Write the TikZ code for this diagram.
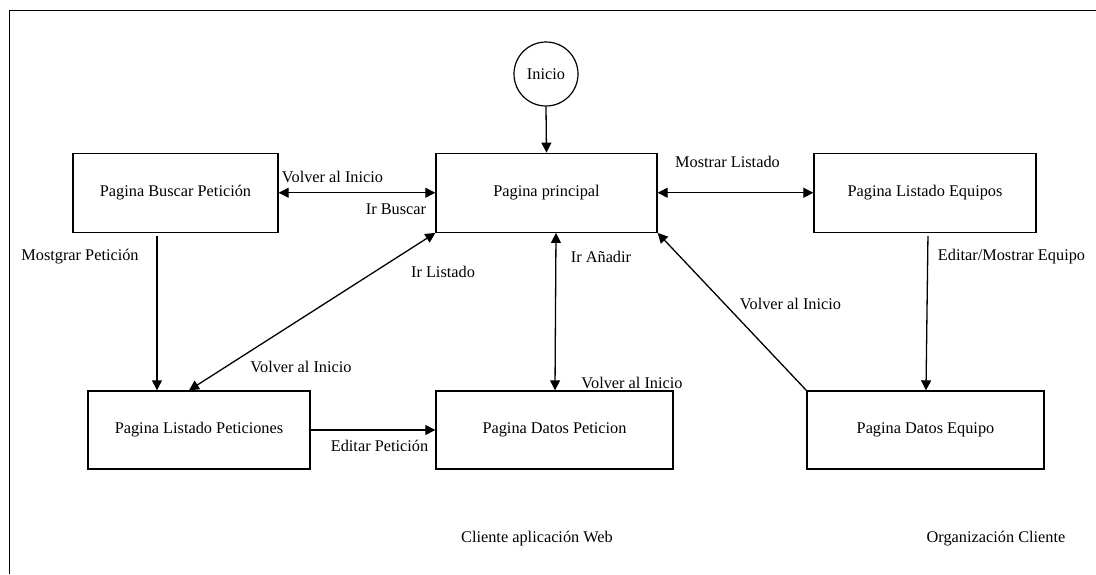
\documentclass[tikz,border=0pt]{standalone}
\usepackage{fontspec}
\setmainfont{Liberation Serif}
\usetikzlibrary{arrows.meta}

\tikzset{
  page/.style={draw, line width=1.4pt, minimum height=79pt, inner sep=0pt,
               font=\fontsize{16.3}{18}\selectfont},
  startnode/.style={draw, circle, line width=1.2pt, minimum size=64pt, inner sep=0pt,
                    font=\fontsize{16.3}{18}\selectfont},
  lbl/.style={inner sep=0pt, font=\fontsize{16.3}{18}\selectfont},
  link/.style={line width=1.3pt, -{Triangle[length=10pt,width=10pt]}},
  biline/.style={line width=1.3pt, {Triangle[length=10pt,width=10pt]}-{Triangle[length=10pt,width=10pt]}}
}

\begin{document}
\begin{tikzpicture}[x=1pt,y=-1pt]
  \useasboundingbox (0,0) rectangle (1096,574);

  % outer frame (open towards the right and bottom edges)
  \draw[line width=1.5pt] (9.5,574) -- (9.5,10.5) -- (1096,10.5);

  % pages
  \node[startnode] (ini) at (546,74) {Inicio};
  \node[page, minimum width=221pt] (pp)  at (546.5,192.75) {Pagina principal};
  \node[page, minimum width=205pt] (pb)  at (175.5,192.75) {Pagina Buscar Petición};
  \node[page, minimum width=222pt] (ple) at (925,192.75) {Pagina Listado Equipos};
  \node[page, minimum width=222pt, minimum height=78pt] (plp) at (199,430) {Pagina Listado Peticiones};
  \node[page, minimum width=237pt, minimum height=78pt] (dp)  at (554.5,430) {Pagina Datos Peticion};
  \node[page, minimum width=237pt, minimum height=78pt] (de)  at (925.5,430) {Pagina Datos Equipo};

  % connectors
  \draw[link] (ini.south) -- (pp.north);
  \draw[biline] (pb.east) -- (pp.west);
  \draw[biline] (pp.east) -- (ple.west);
  \draw[link, shorten <=3pt] ([xshift=-18.5pt]pb.south) -- ([xshift=-18.5pt]pb.south |- plp.north);
  \draw[biline] ([xshift=-10pt]plp.north) -- (pp.south west);
  \draw[biline] ([xshift=9.5pt]pp.south) -- ([xshift=0.5pt]dp.north);
  \draw[link] (plp.east) -- (dp.west);
  \draw[link, shorten <=3pt] ([xshift=3pt]ple.south) -- ([xshift=0.5pt]de.north);
  \draw[link] (de.north west) -- (pp.south east);

  % connector labels
  \node[lbl] (l1)  at (332.5,176.5) {Volver al Inicio};
  \node[lbl] (l2)  at (396,209) {Ir Buscar};
  \node[lbl] (l3)  at (727.5,161.5) {Mostrar Listado};
  \node[lbl] (l4)  at (80,256.5) {Mostgrar Petición};
  \node[lbl] (l5)  at (443,271.5) {Ir Listado};
  \node[lbl] (l6)  at (301,366.5) {Volver al Inicio};
  \node[lbl] (l7)  at (601,256.5) {Ir Añadir};
  \node[lbl] (l8)  at (632,382.5) {Volver al Inicio};
  \node[lbl] (l9)  at (790.5,304) {Volver al Inicio};
  \node[lbl] (l10) at (1011.5,256.5) {Editar/Mostrar Equipo};
  \node[lbl] (l11) at (379.5,446) {Editar Petición};

  % area captions
  \node[lbl] (c1) at (537,539) {Cliente aplicación Web};
  \node[lbl] (c2) at (996,539) {Organización Cliente};
\end{tikzpicture}
\end{document}
